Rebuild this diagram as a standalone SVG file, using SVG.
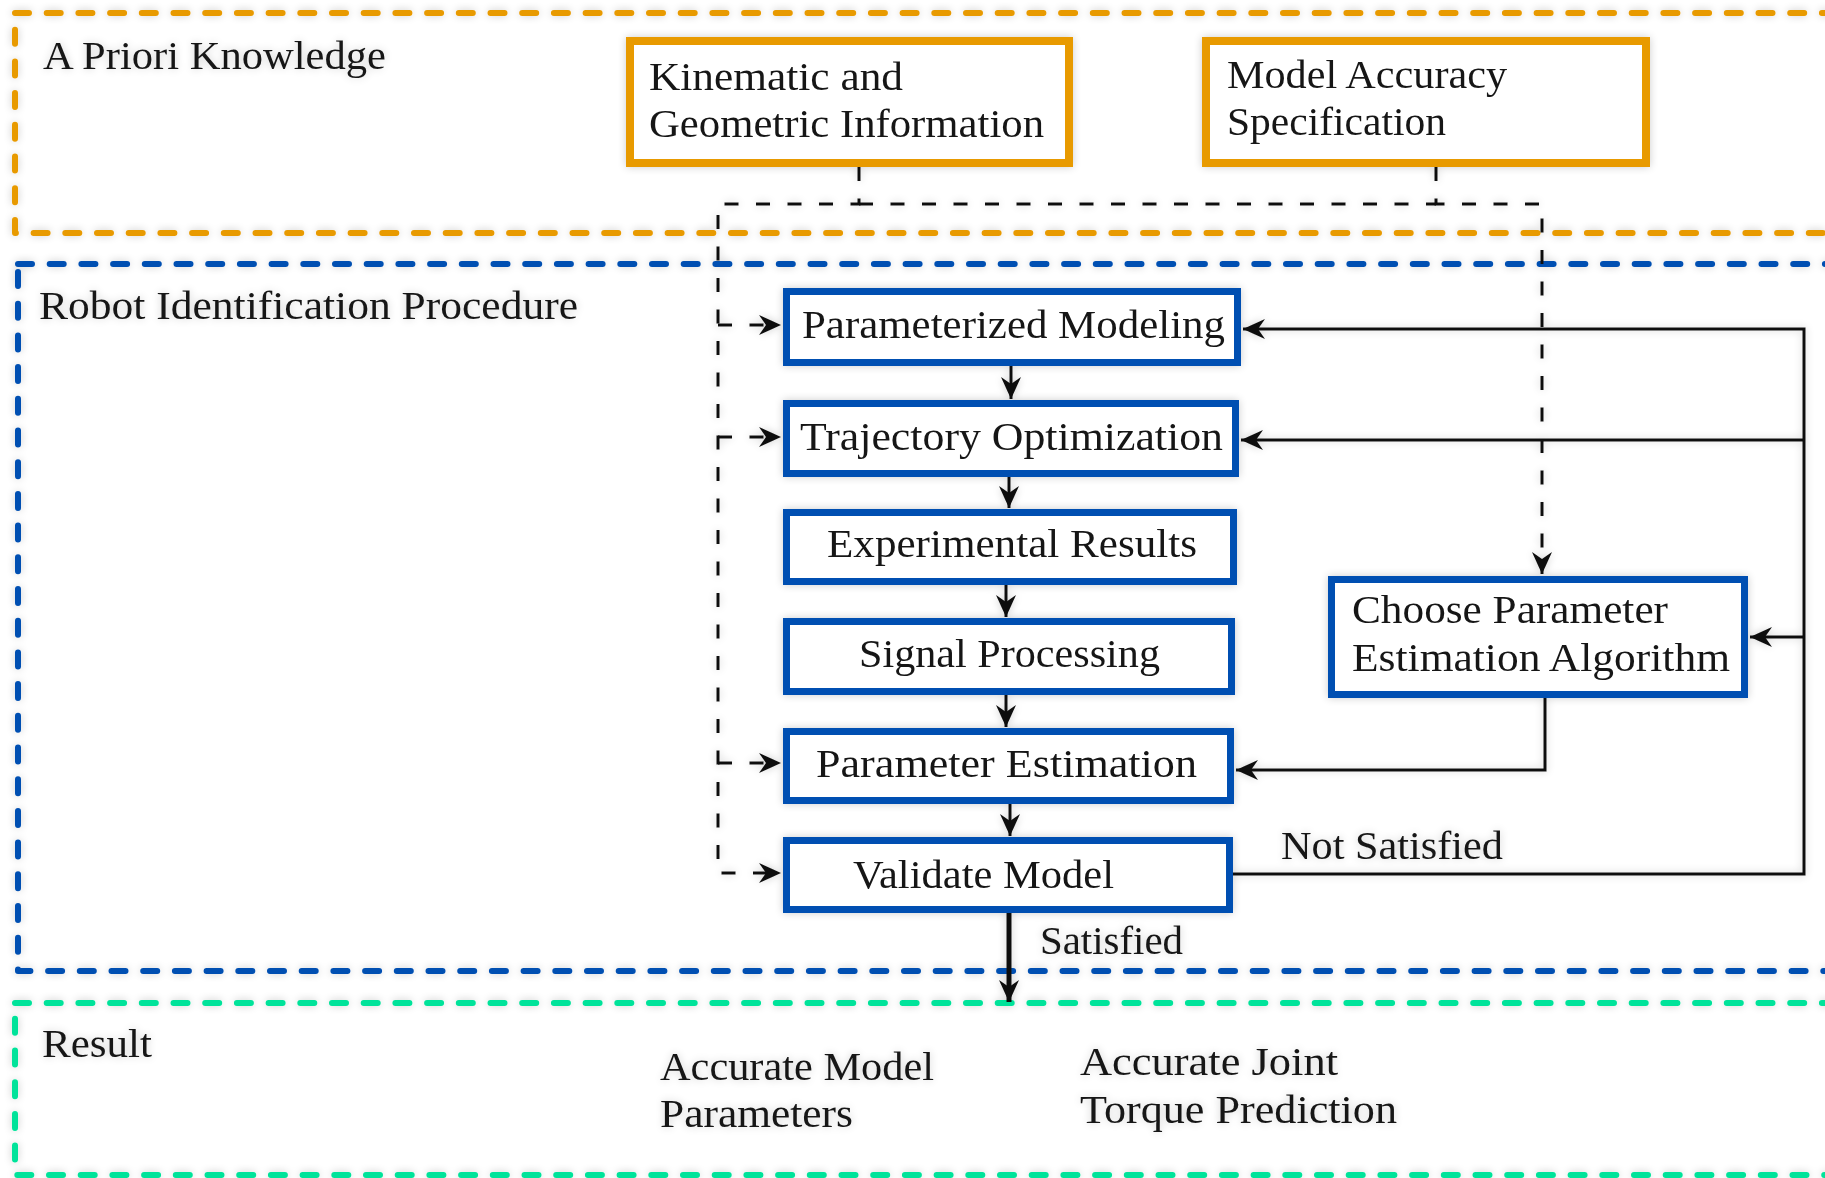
<svg xmlns="http://www.w3.org/2000/svg" width="1825" height="1178" viewBox="0 0 1825 1178">
<defs>
<style>
text{font-family:"Liberation Serif","Times New Roman",serif;font-size:39px;fill:#161616}
.reg{fill:none;stroke-width:6;stroke-linecap:round;stroke-linejoin:round;stroke-dasharray:14 17.7}
.org{stroke:#E89A06}
.blu{stroke:#0350B2}
.grn{stroke:#00E39A}
.ob{fill:#fff;stroke:#E89A06;stroke-width:8}
.bb{fill:#fff;stroke:#0350B2;stroke-width:7}
.dash{fill:none;stroke:#111;stroke-width:3;stroke-dasharray:14 17.5}
.sol{fill:none;stroke:#111;stroke-width:3}
</style>
<marker id="ah" markerUnits="userSpaceOnUse" viewBox="-24 -12 26 24" refX="0" refY="0" markerWidth="26" markerHeight="24" orient="auto">
<path d="M0,0 L-22,-10 L-15,0 L-22,10 Z" fill="#111"/>
</marker>
<filter id="sh" x="-2%" y="-2%" width="104%" height="104%">
<feGaussianBlur in="SourceAlpha" stdDeviation="4"/>
<feComponentTransfer><feFuncA type="linear" slope="0.2"/></feComponentTransfer>
<feMerge><feMergeNode/><feMergeNode in="SourceGraphic"/></feMerge>
</filter>
</defs>
<rect width="1825" height="1178" fill="#fff"/>
<g filter="url(#sh)">
<g id="region-apriori">
<rect class="reg org" x="15" y="13" width="1840" height="220"/>
<text x="43" y="69" textLength="343" lengthAdjust="spacingAndGlyphs">A Priori Knowledge</text>
</g>
<g id="region-procedure">
<rect class="reg blu" x="18" y="264" width="1840" height="707"/>
<text x="39" y="319" textLength="539" lengthAdjust="spacingAndGlyphs">Robot Identification Procedure</text>
</g>
<g id="region-result">
<rect class="reg grn" x="15" y="1003" width="1840" height="172"/>
<text x="42" y="1057" textLength="110" lengthAdjust="spacingAndGlyphs">Result</text>
</g>
<g id="connectors">
<path class="dash" d="M859,167 V204 H718 V873 H781" marker-end="url(#ah)"/>
<path class="dash" d="M859,204 H1436"/>
<path class="dash" d="M1436,167 V204 H1542 V574" marker-end="url(#ah)"/>
<path class="dash" d="M718,325 H781" marker-end="url(#ah)"/>
<path class="dash" d="M718,437 H781" marker-end="url(#ah)"/>
<path class="dash" d="M718,763 H781" marker-end="url(#ah)"/>
<path class="sol" d="M1011,366 V399" marker-end="url(#ah)"/>
<path class="sol" d="M1009,477 V508" marker-end="url(#ah)"/>
<path class="sol" d="M1006,585 V617" marker-end="url(#ah)"/>
<path class="sol" d="M1006,695 V727" marker-end="url(#ah)"/>
<path class="sol" d="M1010,804 V836" marker-end="url(#ah)"/>
<path fill="none" stroke="#111" stroke-width="5" d="M1009,913 V1002" marker-end="url(#ah)"/>
<path class="sol" d="M1233,874 H1804 V329 H1243" marker-end="url(#ah)"/>
<path class="sol" d="M1804,440 H1241" marker-end="url(#ah)"/>
<path class="sol" d="M1804,637 H1750" marker-end="url(#ah)"/>
<path class="sol" d="M1545,698 V770 H1236" marker-end="url(#ah)"/>
<text x="1281" y="859" textLength="222" lengthAdjust="spacingAndGlyphs">Not Satisfied</text>
<text x="1040" y="954" textLength="143" lengthAdjust="spacingAndGlyphs">Satisfied</text>
</g>
<g id="node-kinematic">
<rect class="ob" x="630" y="41" width="439" height="122"/>
<text x="649" y="90" textLength="254" lengthAdjust="spacingAndGlyphs">Kinematic and</text>
<text x="649" y="137" textLength="395" lengthAdjust="spacingAndGlyphs">Geometric Information</text>
</g>
<g id="node-accuracy">
<rect class="ob" x="1206" y="41" width="440" height="122"/>
<text x="1227" y="88" textLength="280" lengthAdjust="spacingAndGlyphs">Model Accuracy</text>
<text x="1227" y="135" textLength="219" lengthAdjust="spacingAndGlyphs">Specification</text>
</g>
<g id="node-param-modeling">
<rect class="bb" x="786.5" y="291.5" width="451" height="71"/>
<text x="802" y="338" textLength="423" lengthAdjust="spacingAndGlyphs">Parameterized Modeling</text>
</g>
<g id="node-trajectory">
<rect class="bb" x="786.5" y="403.5" width="449" height="70"/>
<text x="800" y="450" textLength="423" lengthAdjust="spacingAndGlyphs">Trajectory Optimization</text>
</g>
<g id="node-experimental">
<rect class="bb" x="786.5" y="512.5" width="447" height="69"/>
<text x="827" y="557" textLength="370" lengthAdjust="spacingAndGlyphs">Experimental Results</text>
</g>
<g id="node-signal">
<rect class="bb" x="786.5" y="621.5" width="445" height="70"/>
<text x="859" y="667" textLength="301" lengthAdjust="spacingAndGlyphs">Signal Processing</text>
</g>
<g id="node-estimation">
<rect class="bb" x="786.5" y="731.5" width="444" height="69"/>
<text x="816" y="777" textLength="381" lengthAdjust="spacingAndGlyphs">Parameter Estimation</text>
</g>
<g id="node-validate">
<rect class="bb" x="786.5" y="840.5" width="443" height="69"/>
<text x="853" y="888" textLength="261" lengthAdjust="spacingAndGlyphs">Validate Model</text>
</g>
<g id="node-choose">
<rect class="bb" x="1331.5" y="579.5" width="413" height="115"/>
<text x="1352" y="623" textLength="316" lengthAdjust="spacingAndGlyphs">Choose Parameter</text>
<text x="1352" y="671" textLength="378" lengthAdjust="spacingAndGlyphs">Estimation Algorithm</text>
</g>
<g id="node-acc-params">
<text x="660" y="1080" textLength="274" lengthAdjust="spacingAndGlyphs">Accurate Model</text>
<text x="660" y="1127" textLength="193" lengthAdjust="spacingAndGlyphs">Parameters</text>
</g>
<g id="node-acc-torque">
<text x="1080" y="1075" textLength="258" lengthAdjust="spacingAndGlyphs">Accurate Joint</text>
<text x="1080" y="1123" textLength="317" lengthAdjust="spacingAndGlyphs">Torque Prediction</text>
</g>
</g>
</svg>
